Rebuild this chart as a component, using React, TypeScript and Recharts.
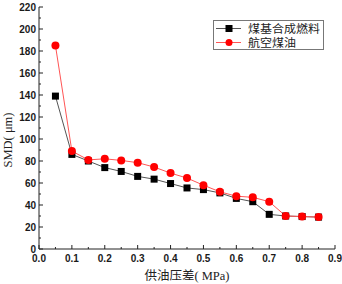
import React from "react";
import { LineChart, Line, XAxis, YAxis, Legend } from "recharts";

const pressure = [0.05, 0.1, 0.15, 0.2, 0.25, 0.3, 0.35, 0.4, 0.45, 0.5, 0.55, 0.6, 0.65, 0.7, 0.75, 0.8, 0.85];
const coalFuel = [139, 86, 80, 74, 70.5, 66, 63.5, 59.5, 55.5, 54, 51, 46, 43, 31.5, 30, 29.5, 29];
const jetFuel = [185, 89, 81, 82, 80.5, 78.5, 74.5, 69, 64.5, 58, 52, 48, 47, 43, 30, 29.5, 29];
const seriesNames = ["煤基合成燃料", "航空煤油"];

const xTicks = [0, 0.05, 0.1, 0.15, 0.2, 0.25, 0.3, 0.35, 0.4, 0.45, 0.5, 0.55, 0.6, 0.65, 0.7, 0.75, 0.8, 0.85, 0.9];
const xMajor = ["0.0", "0.1", "0.2", "0.3", "0.4", "0.5", "0.6", "0.7", "0.8", "0.9"];
const yTicks = [0, 10, 20, 30, 40, 50, 60, 70, 80, 90, 100, 110, 120, 130, 140, 150, 160, 170, 180, 190, 200, 210, 220];
const xLabel = "供油压差( MPa)";
const yLabel = "SMD( μm)";

const data = pressure.map((p, i) => ({ p, coal: coalFuel[i], jet: jetFuel[i] }));

const tickFont = { fontFamily: "Liberation Sans, Arial, sans-serif", fontWeight: 700, fontSize: 10, fill: "#1a1a1a" };

const XTick = (props: any) => {
  const { x, y, payload } = props;
  const v = payload.value;
  const idx = Math.round(v * 20);
  const major = idx % 2 === 0;
  return (
    <g>
      <line x1={x} x2={x} y1={y} y2={y - (major ? 4 : 2)} stroke="#222" strokeWidth={1} />
      {major && (
        <text x={x} y={y + 13} textAnchor="middle" {...tickFont}>
          {xMajor[idx / 2]}
        </text>
      )}
    </g>
  );
};

const YTick = (props: any) => {
  const { x, y, payload } = props;
  const v = payload.value;
  const major = Math.round(v) % 20 === 0;
  return (
    <g>
      <line x1={x} x2={x + (major ? 4 : 2)} y1={y} y2={y} stroke="#222" strokeWidth={1} />
      {major && (
        <text x={x - 3} y={y + 3.5} textAnchor="end" {...tickFont}>
          {v}
        </text>
      )}
    </g>
  );
};

const SquareDot = (props: any) => {
  const { cx, cy, index } = props;
  return <rect key={"s" + index} x={cx - 3.5} y={cy - 3.5} width={7} height={7} fill="#000" />;
};
const CircleDot = (props: any) => {
  const { cx, cy, index } = props;
  return <circle key={"c" + index} cx={cx} cy={cy} r={4} fill="#ff0000" />;
};

const LegendBox = () => (
  <svg width={111} height={30} style={{ display: "block" }}>
    <rect x={0.5} y={0.5} width={110} height={29} fill="#fff" stroke="#777" />
    <line x1={3} x2={28} y1={8.5} y2={8.5} stroke="#555" />
    <rect x={12.5} y={5} width={7} height={7} fill="#000" />
    <text x={35} y={12.5} fontSize={11} textLength={72} lengthAdjust="spacingAndGlyphs" fontFamily="Noto Sans CJK SC" fill="#222">{seriesNames[0]}</text>
    <line x1={3} x2={28} y1={22.5} y2={22.5} stroke="#ff5555" />
    <circle cx={16} cy={22.5} r={3.5} fill="#ff0000" />
    <text x={35} y={27} fontSize={11} textLength={48} lengthAdjust="spacingAndGlyphs" fontFamily="Noto Sans CJK SC" fill="#222">{seriesNames[1]}</text>
  </svg>
);

export default function App() {
  return (
    <div style={{ position: "absolute", left: 0, top: 0, width: 342, height: 284, background: "#fff" }}>
      <LineChart width={342} height={284} data={data} margin={{ top: 7, right: 7, bottom: 0, left: 0 }}>
        <XAxis
          dataKey="p"
          type="number"
          domain={[0, 0.9]}
          ticks={xTicks}
          interval={0}
          height={35}
          tickSize={0}
          tickMargin={0}
          tickLine={false}
          tick={<XTick />}
          axisLine={{ stroke: "#222" }}
          label={{ value: xLabel, position: "insideBottom", offset: 0, dy: -4, fontSize: 12.5, fill: "#222", fontFamily: "Liberation Serif, Noto Sans CJK SC" }}
        />
        <XAxis xAxisId="top" dataKey="p" type="number" domain={[0, 0.9]} orientation="top" height={0} tick={false} tickLine={false} axisLine={{ stroke: "#222" }} />
        <YAxis
          type="number"
          domain={[0, 220]}
          ticks={yTicks}
          interval={0}
          width={39}
          tickSize={0}
          tickMargin={0}
          tickLine={false}
          tick={<YTick />}
          axisLine={{ stroke: "#222" }}
          label={{ value: yLabel, angle: -90, position: "insideLeft", dx: 3, dy: 12, fontSize: 12.5, fill: "#222", fontFamily: "Liberation Serif, Noto Sans CJK SC", style: { textAnchor: "middle" } }}
        />
        <YAxis yAxisId="right" orientation="right" width={0} domain={[0, 220]} tick={false} tickLine={false} axisLine={{ stroke: "#222" }} />
        <Legend layout="horizontal" verticalAlign="middle" content={<LegendBox />} wrapperStyle={{ position: "absolute", left: 213, top: 20, width: 111, height: 30 }} />
        <Line dataKey="coal" name={seriesNames[0]} stroke="#555" strokeWidth={1} dot={<SquareDot />} isAnimationActive={false} />
        <Line dataKey="jet" name={seriesNames[1]} stroke="#ff5555" strokeWidth={1} dot={<CircleDot />} isAnimationActive={false} />
      </LineChart>
    </div>
  );
}
